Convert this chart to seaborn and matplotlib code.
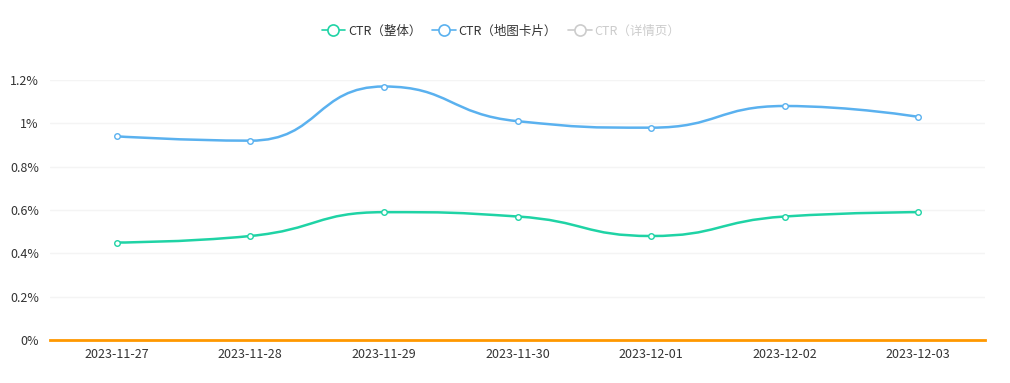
import numpy as np
import pandas as pd
import matplotlib
matplotlib.use("Agg")
import matplotlib.pyplot as plt
import seaborn as sns
from matplotlib.path import Path
from matplotlib.patches import PathPatch
from matplotlib.lines import Line2D
from matplotlib.ticker import FuncFormatter

sns.set_style("white")
plt.rcParams["font.family"] = ["Noto Sans CJK SC", "DejaVu Sans"]

dates = ["2023-11-27", "2023-11-28", "2023-11-29", "2023-11-30",
         "2023-12-01", "2023-12-02", "2023-12-03"]
ctr_total = [0.45, 0.48, 0.59, 0.57, 0.48, 0.57, 0.59]
ctr_map_card = [0.94, 0.92, 1.17, 1.01, 0.98, 1.08, 1.03]
ctr_detail = []  # hidden series (legend item disabled)

series_names = ["CTR（整体）", "CTR（地图卡片）", "CTR（详情页）"]
colors = ["#1fd3a5", "#5ab1ef", "#cccccc"]

df = pd.DataFrame({
    "date": dates * 2,
    "pos": list(range(len(dates))) * 2,
    "value": ctr_total + ctr_map_card,
    "series": [series_names[0]] * len(dates) + [series_names[1]] * len(dates),
})

fig = plt.figure(figsize=(10.1, 3.83), dpi=100)
ax = fig.add_axes([50 / 1010, 43 / 383, 935 / 1010, 260 / 383])

# approx pixel scale, so segment lengths are measured like on screen
scale = np.array([133.6, 216.7])


def smooth_path(xs, ys, smooth=0.5):
    # echarts-style smoothing, control points kept inside neighbour boxes
    pts = np.column_stack([xs, ys]).astype(float) * scale
    n = len(pts)
    verts = [pts[0]]
    codes = [Path.MOVETO]
    cp_out = pts[0].copy()
    for i in range(1, n):
        p = pts[i]
        if i == n - 1:
            cp_in = p.copy()
            nxt_out = p.copy()
        else:
            prev, nxt = pts[i - 1], pts[i + 1]
            v = nxt - prev
            l0 = np.linalg.norm(p - prev)
            l1 = np.linalg.norm(nxt - p)
            r = l1 / (l0 + l1)
            cp_in = p - v * smooth * (1 - r)
            nxt_out = p + v * smooth * r
            nxt_out = np.minimum(nxt_out, np.maximum(nxt, p))
            nxt_out = np.maximum(nxt_out, np.minimum(nxt, p))
            cp_in = p - (nxt_out - p) * l0 / l1
            cp_in = np.minimum(cp_in, np.maximum(prev, p))
            cp_in = np.maximum(cp_in, np.minimum(prev, p))
            nxt_out = p + (p - cp_in) * l1 / l0
        verts += [cp_out, cp_in, p]
        codes += [Path.CURVE4] * 3
        cp_out = nxt_out
    verts = [np.asarray(v) / scale for v in verts]
    return Path(verts, codes)


for name, color in zip(series_names[:2], colors[:2]):
    sub = df[df["series"] == name]
    ax.add_patch(PathPatch(smooth_path(sub["pos"].values, sub["value"].values),
                           facecolor="none", edgecolor=color, lw=1.8, zorder=3))
    sns.scatterplot(data=sub, x="pos", y="value", ax=ax, color="white",
                    edgecolor=color, linewidth=1.0, s=16, zorder=4, legend=False)

ax.set_xlim(-0.5, len(dates) - 0.5)
ax.set_ylim(0, 1.2)
ax.set_xticks(range(len(dates)))
ax.set_xticklabels(dates)
ax.set_yticks([0, 0.2, 0.4, 0.6, 0.8, 1.0, 1.2])
ax.yaxis.set_major_formatter(FuncFormatter(lambda v, p: f"{v:g}%"))
ax.set_xlabel("")
ax.set_ylabel("")
ax.tick_params(axis="both", length=0, labelsize=9, colors="#333333")
ax.tick_params(axis="x", pad=6)
ax.tick_params(axis="y", pad=8)
ax.grid(axis="y", color="#f4f4f4", lw=1)
for s in ["top", "right", "left"]:
    ax.spines[s].set_visible(False)
ax.spines["bottom"].set_color("#ff9800")
ax.spines["bottom"].set_linewidth(2)
ax.set_axisbelow(True)

handles = [Line2D([0], [0], color=c, lw=1.2, marker="o", markersize=8,
                  markerfacecolor="white", markeredgecolor=c, markeredgewidth=1.2)
           for c in colors]
leg = fig.legend(handles, series_names, loc="center", bbox_to_anchor=(501 / 1010, 352 / 383),
                 ncol=3, frameon=False, fontsize=9, handlelength=1.9,
                 handletextpad=0.2, columnspacing=0.9)
for t, c in zip(leg.get_texts(), ["#333333", "#333333", "#cccccc"]):
    t.set_color(c)

fig.savefig("out.png", dpi=100)
